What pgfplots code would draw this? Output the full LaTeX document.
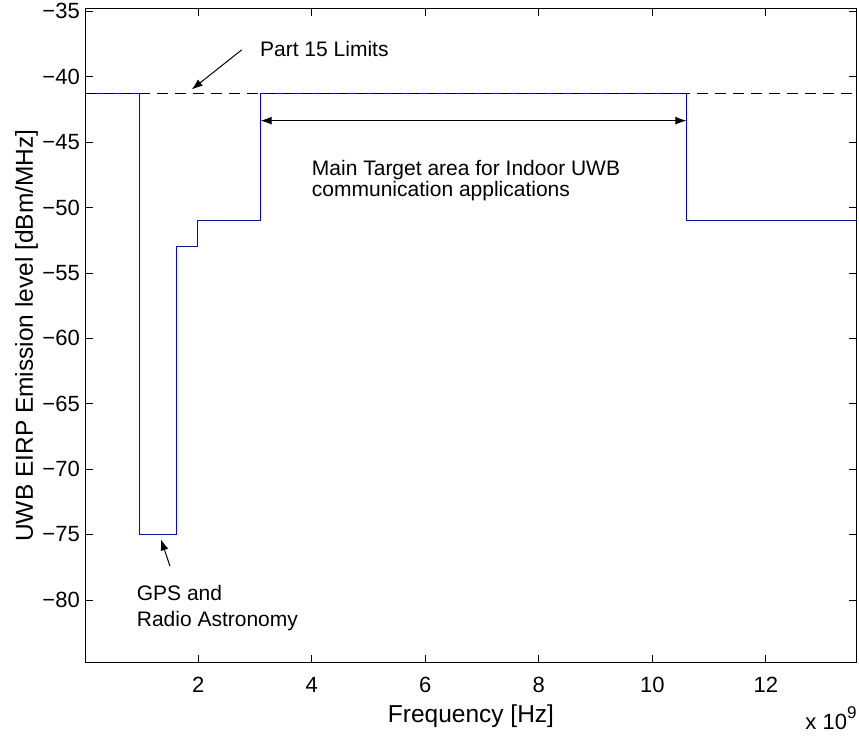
\documentclass[border=0pt]{standalone}
\usepackage{fontspec}
\setmainfont{Liberation Sans}
\usepackage{pgfplots}
\pgfplotsset{compat=1.18}
\usetikzlibrary{arrows.meta}
\begin{document}
\begin{tikzpicture}
\useasboundingbox (-85.3pt,-75.3pt) rectangle (773.7pt,662.7pt);
\begin{axis}[
 at={(0pt,0pt)}, anchor=south west,
 scale only axis, width=771.4pt, height=654.4pt,
 xmin=0.01, xmax=13.6, ymin=-84.8, ymax=-34.77,
 xtick={2,4,6,8,10,12}, ytick={-80,-75,-70,-65,-60,-55,-50,-45,-40,-35},
 xticklabels={2,4,6,8,10,12},
 yticklabels={−80,−75,−70,−65,−60,−55,−50,−45,−40,−35},
 tick align=inside, tick pos=both,
 major tick length=7.7pt,
 axis line style={line width=0.9pt},
 every tick/.style={black, line width=0.8pt},
 ticklabel style={font=\fontsize{22}{26}\selectfont},
 xticklabel style={anchor=north, inner sep=0pt, yshift=-14pt},
 yticklabel style={anchor=east, inner sep=0pt, xshift=-5.3pt},
 xlabel={Frequency [Hz]},
 ylabel={UWB EIRP Emission level [dBm/MHz]},
 label style={font=\fontsize{24.5}{28}\selectfont},
 xlabel style={at={(axis description cs:0.5,0)}, anchor=base, yshift=-60.3pt, inner sep=0pt},
 ylabel style={at={(axis description cs:0,0.5)}, anchor=base, yshift=52.3pt, inner sep=0pt},
 clip=false,
]
\addplot[blue, line width=0.9pt] coordinates {
 (0.01,-41.3) (0.96,-41.3) (0.96,-75) (1.61,-75) (1.61,-53) (1.99,-53)
 (1.99,-51) (3.1,-51) (3.1,-41.3) (10.6,-41.3) (10.6,-51) (13.6,-51)};
\addplot[black, line width=0.8pt, dash pattern=on 11pt off 7pt] coordinates {(0.01,-41.3) (13.6,-41.3)};

\node[anchor=base west, inner sep=0pt, font=\fontsize{21}{25}\selectfont] at (axis cs:3.087,-38.42) {Part 15 Limits};
\draw[-{Latex[length=11pt,width=8pt]}, line width=1pt] (axis cs:2.765,-37.95) -- (axis cs:1.884,-40.98);
\draw[{Latex[length=11pt,width=8pt]}-{Latex[length=11pt,width=8pt]}, line width=1pt] (axis cs:3.1,-43.36) -- (axis cs:10.6,-43.36);
\node[anchor=base west, inner sep=0pt, font=\fontsize{21}{25}\selectfont] at (axis cs:4.0,-47.52) {Main Target area for Indoor UWB};
\node[anchor=base west, inner sep=0pt, font=\fontsize{21}{25}\selectfont] at (axis cs:4.0,-49.17) {communication applications};
\node[anchor=base west, inner sep=0pt, font=\fontsize{21}{25}\selectfont] at (axis cs:0.915,-80.01) {GPS and};
\node[anchor=base west, inner sep=0pt, font=\fontsize{21}{25}\selectfont] at (axis cs:0.915,-82.0) {Radio Astronomy};
\draw[-{Latex[length=11pt,width=8pt]}, line width=1pt] (axis cs:1.501,-77.41) -- (axis cs:1.343,-75.37);

\node[anchor=base east, inner sep=0pt, font=\fontsize{22}{26}\selectfont] at ([yshift=-67.3pt]rel axis cs:1,0) {x 10\raisebox{11pt}{\fontsize{17}{20}\selectfont 9}};
\end{axis}
\end{tikzpicture}
\end{document}
